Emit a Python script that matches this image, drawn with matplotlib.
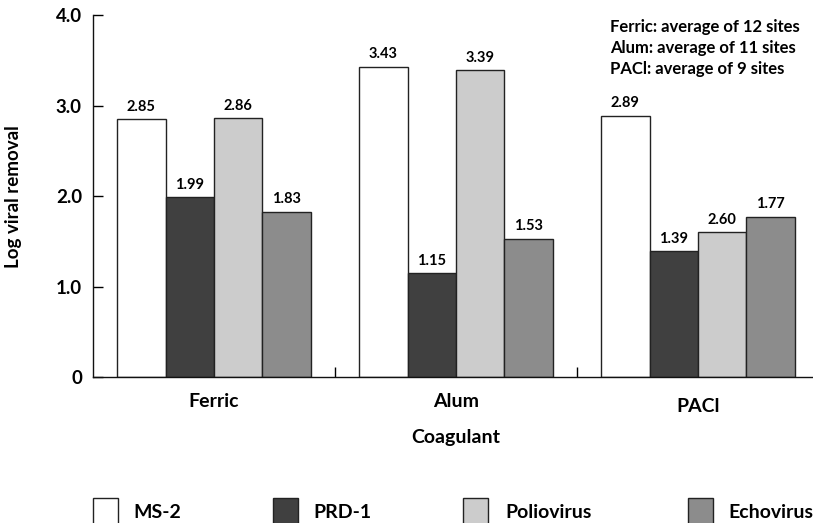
import numpy as np
import matplotlib
matplotlib.use("Agg")
import matplotlib.pyplot as plt
from matplotlib.patches import Rectangle

plt.rcParams["font.family"] = ["Lato", "DejaVu Sans"]

# data
coagulants = ["Ferric", "Alum", "PACl"]
viruses = ["MS-2", "PRD-1", "Poliovirus", "Echovirus"]
ms2 = [2.85, 3.43, 2.89]
prd1 = [1.99, 1.15, 1.39]
polio = [2.86, 3.39, 1.60]
echo = [1.83, 1.53, 1.77]
series = [ms2, prd1, polio, echo]
# printed labels (the PACl poliovirus bar is labelled 2.60 in the source)
bar_labels = [
    ["2.85", "3.43", "2.89"],
    ["1.99", "1.15", "1.39"],
    ["2.86", "3.39", "2.60"],
    ["1.83", "1.53", "1.77"],
]
notes = ["Ferric: average of 12 sites",
         "Alum: average of 11 sites",
         "PACl: average of 9 sites"]
yticks = [0, 1.0, 2.0, 3.0, 4.0]
ytick_labels = ["0", "1.0", "2.0", "3.0", "4.0"]

colors = ["#ffffff", "#404040", "#cccccc", "#8c8c8c"]
edge = "#222222"

W, H = 813, 523
fig = plt.figure(figsize=(W / 100, H / 100), dpi=100)
ax_w = W - 93
ax = fig.add_axes([93 / W, (H - 377.3) / H, ax_w / W, 362.3 / H])

x = np.arange(len(coagulants))
width = 0.2
offsets = [-0.3, -0.1, 0.1, 0.3]

for vals, labs, col, off in zip(series, bar_labels, colors, offsets):
    bars = ax.bar(x + off, vals, width, color=col, edgecolor=edge, linewidth=1.0)
    for b, lab in zip(bars, labs):
        ax.annotate(lab, (b.get_x() + b.get_width() / 2, b.get_height()),
                    xytext=(0, 4), textcoords="offset points",
                    ha="center", va="bottom", fontsize=10.5, fontweight="bold")

ax.set_xlim(-0.5, 2.475)
ax.set_ylim(0, 4.0)

ax.spines["top"].set_visible(False)
ax.spines["right"].set_visible(False)
for s in ["left", "bottom"]:
    ax.spines[s].set_linewidth(1.0)
    ax.spines[s].set_color("#111111")

ax.set_yticks(yticks)
ax.set_yticklabels(ytick_labels, fontsize=13.5, fontweight="bold")
ax.tick_params(axis="y", direction="in", length=7.2, width=1.0, pad=8)

ax.set_xticks([])
ax.set_xticks([0.5, 1.5], minor=True)
ax.tick_params(axis="x", which="minor", direction="in", length=7.2, width=1.0)

# group labels
label_drop = [24, 24, 29]
for xi, name, d in zip(x, coagulants, label_drop):
    ax.annotate(name, (xi, 0), xytext=(0, -d * 0.72), textcoords="offset points",
                ha="center", va="center", fontsize=14, fontweight="bold",
                annotation_clip=False)

ax.set_ylabel("Log viral removal", fontsize=13.5, fontweight="bold")
ax.yaxis.set_label_coords((22 - 93) / ax_w, 0.5)

fig.text(456 / W, (H - 437) / H, "Coagulant", ha="center", va="center",
         fontsize=14, fontweight="bold")

# notes
for i, line in enumerate(notes):
    fig.text(610 / W, (H - (32 + 21 * i)) / H, line, ha="left", va="baseline",
             fontsize=12, fontweight="bold",
             family=["Liberation Sans Narrow", "Lato", "DejaVu Sans"])

# legend drawn below the chart
sq_x = [93, 273, 463, 688]
txt_x = [133, 313, 505, 728]
for name, col, sx, tx in zip(viruses, colors, sq_x, txt_x):
    fig.add_artist(Rectangle((sx / W, (H - 526) / H), 25 / W, 28 / H,
                             transform=fig.transFigure, facecolor=col,
                             edgecolor=edge, linewidth=1.0))
    fig.text(tx / W, (H - 512) / H, name, ha="left", va="center",
             fontsize=14, fontweight="bold")

fig.savefig("out.png", dpi=100)
